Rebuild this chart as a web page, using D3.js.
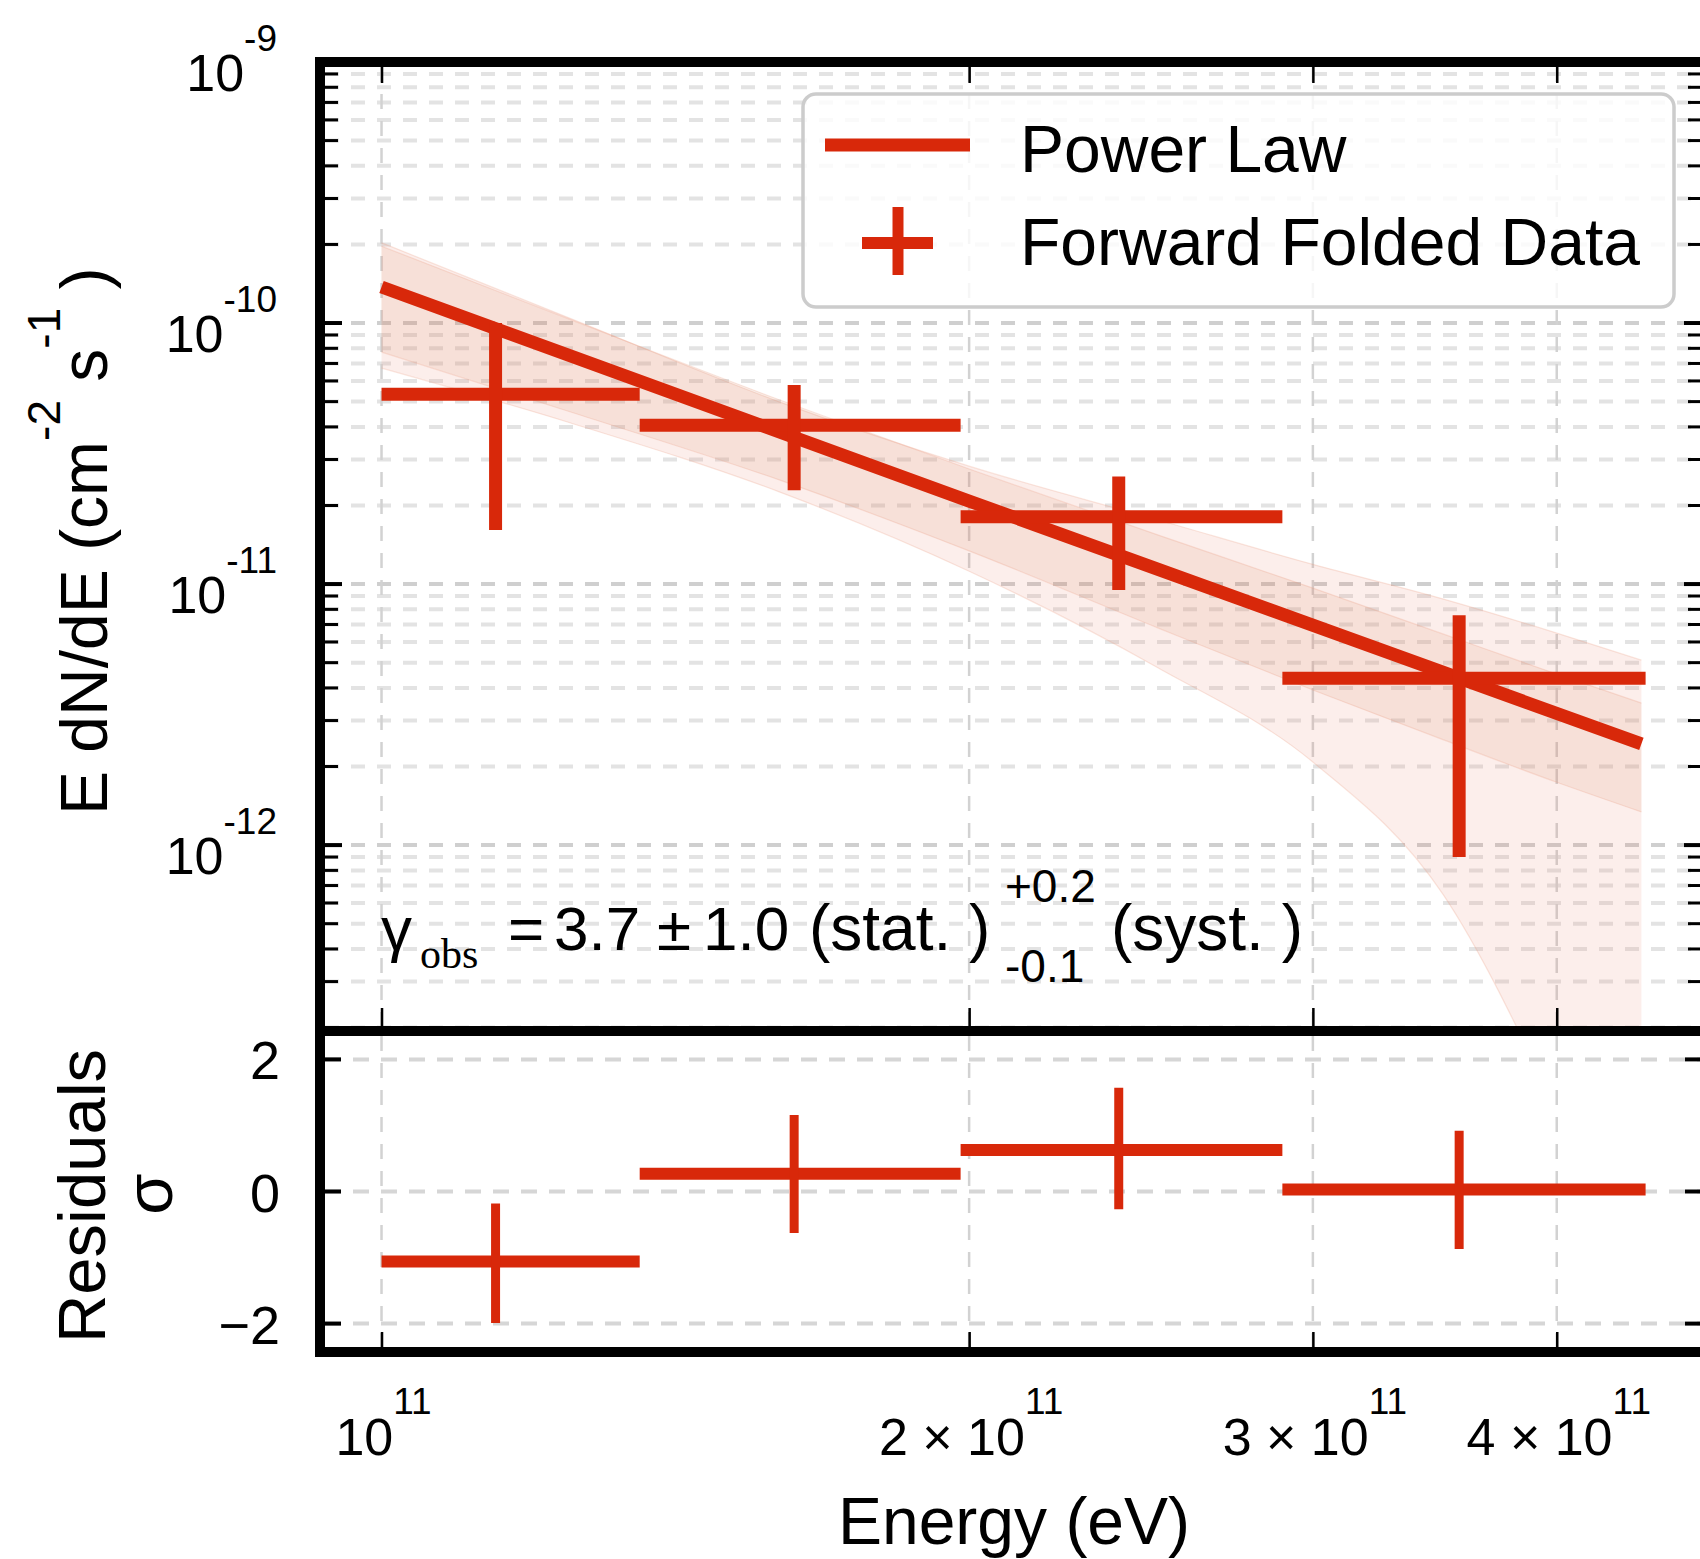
<!DOCTYPE html>
<html>
<head>
<meta charset="utf-8">
<script src="https://cdn.jsdelivr.net/npm/d3@7"></script>
<style>
html, body { margin: 0; padding: 0; background: #fff; }
svg { display: block; font-family: "Liberation Sans", Arial, Helvetica, sans-serif; }
</style>
</head>
<body>
<div id="chart"></div>
<script>
(function () {
'use strict';
// Spectrum (E dN/dE) with power-law fit + residual panel

// ---- data ----
const BIN_LO     = [1.0e11, 1.356e11, 1.980e11, 2.894e11];
const BIN_HI     = [1.356e11, 1.980e11, 2.894e11, 4.442e11];
const BIN_CENTER = [1.144e11, 1.627e11, 2.386e11, 3.565e11];
const FLUX       = [5.34e-11, 4.06e-11, 1.81e-11, 4.36e-12];
const FLUX_LO    = [1.61e-11, 2.29e-11, 9.48e-12, 9.0e-13];
const FLUX_HI    = [1.0e-10, 5.79e-11, 2.58e-11, 7.6e-12];

const RESID    = [-1.06, 0.27, 0.63, 0.03];
const RESID_LO = [-1.99, -0.63, -0.27, -0.87];
const RESID_HI = [-0.18, 1.16, 1.57, 0.92];

// fitted power law (straight in log-log)
const FIT_E    = [1.0e11, 2.0e11, 4.42e11];
const FIT_FLUX = [1.374e-10, 2.08e-11, 2.44e-12];

// uncertainty bands
const BAND_E   = [1.0e11, 1.25e11, 1.6e11, 2.0e11, 2.5e11, 3.0e11, 3.5e11, 4.0e11, 4.42e11];
const STAT_HI  = [1.97e-10, 1.03e-10, 5.07e-11, 2.76e-11, 1.54e-11, 9.65e-12, 6.43e-12, 4.52e-12, 3.50e-12];
const STAT_LO  = [7.74e-11, 4.56e-11, 2.50e-11, 1.34e-11, 6.78e-12, 3.93e-12, 2.53e-12, 1.74e-12, 1.34e-12];
const SYST_HI  = [2.03e-10, 1.04e-10, 4.98e-11, 2.83e-11, 1.76e-11, 1.19e-11, 8.76e-12, 6.49e-12, 5.11e-12];
const SYST_LO  = [6.72e-11, 4.14e-11, 2.25e-11, 1.12e-11, 4.77e-12, 2.08e-12, 6.43e-13, 9.65e-14, 1.81e-14];

// ticks
const XTICKS       = [1e11, 2e11, 3e11, 4e11];
const XTICK_MANT   = ["10", "2 × 10", "3 × 10", "4 × 10"];
const XTICK_EXP    = "11";
const YTICK_DECADE = [1e-9, 1e-10, 1e-11, 1e-12];
const YTICK_EXP    = ["-9", "-10", "-11", "-12"];
const RTICKS       = [2, 0, -2];
const RTICK_LABELS = ["2", "0", "\u22122"];

const LEGEND = ["Power Law", "Forward Folded Data"];

// ---- look ----
const RED = "#d8280a";
const GRID_MAJOR = "#cfcfcf";
const GRID_MINOR = "#e3e3e3";
const W = 1700, H = 1559;
const PL = 320, PR = 1706;       // frame centre lines
const UT = 62, UB = 1031, LB = 1352;
const FW = 10;                   // frame width
const inL = PL + FW / 2, inR = PR - FW / 2;

const svg = d3.select("#chart").append("svg")
  .attr("width", W).attr("height", H).attr("viewBox", `0 0 ${W} ${H}`);

const x = d3.scaleLog().domain([9.3e10, 4.77e11]).range([PL, PR]);
const y = d3.scaleLog().domain([1.94e-13, 1e-9]).range([UB, UT]);
const r = d3.scaleLinear().domain([-2.43, 2.43]).range([LB, UB]);

const isMajor = v => Math.abs(Math.log10(v) - Math.round(Math.log10(v))) < 1e-6;

svg.append("defs").append("clipPath").attr("id", "clipUp")
  .append("rect").attr("x", inL).attr("y", UT + FW / 2)
  .attr("width", inR - inL).attr("height", UB - UT - FW);

// ---------- upper panel ----------
const up = svg.append("g");
const yTicks = y.ticks().filter(v => v >= 1.94e-13 && v <= 1e-9);

// grid
up.append("g").selectAll("line").data(yTicks).join("line")
  .attr("x1", inL).attr("x2", inR)
  .attr("y1", d => y(d)).attr("y2", d => y(d))
  .attr("stroke", d => isMajor(d) ? GRID_MAJOR : GRID_MINOR)
  .attr("stroke-width", 4)
  .attr("stroke-dasharray", "14,12");
up.append("g").selectAll("line").data(XTICKS).join("line")
  .attr("x1", d => x(d)).attr("x2", d => x(d))
  .attr("y1", UT + FW / 2).attr("y2", UB - FW / 2)
  .attr("stroke", "#d2d2d2").attr("stroke-width", 2.5)
  .attr("stroke-dasharray", "15,12");

// bands
const bandPts = (lo, hi) => BAND_E.map((e, i) => ({ e, lo: lo[i], hi: hi[i] }));
const area = d3.area().x(d => x(d.e)).y0(d => y(d.lo)).y1(d => y(d.hi)).curve(d3.curveMonotoneX);
const edge = key => d3.line().x(d => x(d.e)).y(d => y(d[key])).curve(d3.curveMonotoneX);
const bands = up.append("g").attr("clip-path", "url(#clipUp)");
[[SYST_LO, SYST_HI, "#ea8a70", 0.14], [STAT_LO, STAT_HI, "#d87850", 0.12]].forEach(([lo, hi, c, o]) => {
  const pts = bandPts(lo, hi);
  bands.append("path").datum(pts).attr("d", area).attr("fill", c).attr("fill-opacity", o);
  ["lo", "hi"].forEach(k => bands.append("path").datum(pts).attr("d", edge(k))
    .attr("fill", "none").attr("stroke", "#ec9a80").attr("stroke-opacity", 0.25).attr("stroke-width", 1.2));
});

// fit line
up.append("path")
  .datum(FIT_E.map((e, i) => ({ e, f: FIT_FLUX[i] })))
  .attr("d", d3.line().x(d => x(d.e)).y(d => y(d.f)))
  .attr("fill", "none").attr("stroke", RED).attr("stroke-width", 13);

// data crosses
const pts = BIN_CENTER.map((c, i) => ({ c, lo: BIN_LO[i], hi: BIN_HI[i], f: FLUX[i], flo: FLUX_LO[i], fhi: FLUX_HI[i] }));
const crosses = up.append("g").attr("stroke", RED).attr("stroke-width", 13);
crosses.selectAll("line.h").data(pts).join("line").attr("class", "h")
  .attr("x1", d => x(d.lo)).attr("x2", d => x(d.hi))
  .attr("y1", d => y(d.f)).attr("y2", d => y(d.f));
crosses.selectAll("line.v").data(pts).join("line").attr("class", "v")
  .attr("x1", d => x(d.c)).attr("x2", d => x(d.c))
  .attr("y1", d => y(d.flo)).attr("y2", d => y(d.fhi));

// legend
const lg = up.append("g");
lg.append("rect").attr("x", 803).attr("y", 94).attr("width", 871).attr("height", 213)
  .attr("rx", 13).attr("fill", "#fff").attr("fill-opacity", 0.8)
  .attr("stroke", "#cccccc").attr("stroke-width", 3.5);
lg.append("line").attr("x1", 825).attr("x2", 970).attr("y1", 145).attr("y2", 145)
  .attr("stroke", RED).attr("stroke-width", 13);
lg.append("line").attr("x1", 862).attr("x2", 933).attr("y1", 243).attr("y2", 243)
  .attr("stroke", RED).attr("stroke-width", 12);
lg.append("line").attr("x1", 898).attr("x2", 898).attr("y1", 207).attr("y2", 275)
  .attr("stroke", RED).attr("stroke-width", 11);
lg.selectAll("text").data(LEGEND).join("text")
  .attr("x", 1020).attr("y", (d, i) => 172 + i * 93)
  .attr("font-size", 66).attr("fill", "#000").text(d => d);

// annotation
const ann = up.append("g").attr("fill", "#000");
const annBits = [
  { t: "\u03b3", x: 381, y: 950, s: 62 },
  { t: "obs", x: 420, y: 968, s: 42, serif: true },
  { t: "=", x: 508, y: 950, s: 62 },
  { t: "3.7", x: 554, y: 950, s: 62 },
  { t: "±", x: 657, y: 950, s: 62 },
  { t: "1.0", x: 703, y: 950, s: 62 },
  { t: "(stat. )", x: 809, y: 950, s: 64 },
  { t: "+0.2", x: 1005, y: 902, s: 46 },
  { t: "-0.1", x: 1005, y: 982, s: 46 },
  { t: "(syst. )", x: 1111, y: 950, s: 64 }
];
annBits.forEach(b => ann.append("text").attr("x", b.x).attr("y", b.y)
  .attr("font-size", b.s)
  .attr("font-family", b.serif ? "'Liberation Serif','DejaVu Serif',serif" : null)
  .text(b.t));

// ---------- lower panel ----------
const low = svg.append("g");
low.append("g").selectAll("line").data(RTICKS).join("line")
  .attr("x1", inL).attr("x2", inR)
  .attr("y1", d => r(d)).attr("y2", d => r(d))
  .attr("stroke", "#d6d6d6").attr("stroke-width", 4).attr("stroke-dasharray", "16,12");
low.append("g").selectAll("line").data(XTICKS).join("line")
  .attr("x1", d => x(d)).attr("x2", d => x(d))
  .attr("y1", UB + FW / 2).attr("y2", LB - FW / 2)
  .attr("stroke", "#d2d2d2").attr("stroke-width", 2.5).attr("stroke-dasharray", "15,12");

const res = BIN_CENTER.map((c, i) => ({ c, lo: BIN_LO[i], hi: BIN_HI[i], v: RESID[i], vlo: RESID_LO[i], vhi: RESID_HI[i] }));
low.append("g").attr("stroke", RED).attr("stroke-width", 12)
  .selectAll("line").data(res).join("line")
  .attr("x1", d => x(d.lo)).attr("x2", d => x(d.hi))
  .attr("y1", d => r(d.v)).attr("y2", d => r(d.v));
low.append("g").attr("stroke", RED).attr("stroke-width", 9)
  .selectAll("line").data(res).join("line")
  .attr("x1", d => x(d.c)).attr("x2", d => x(d.c))
  .attr("y1", d => r(d.vlo)).attr("y2", d => r(d.vhi));

// ---------- ticks ----------
const tk = svg.append("g").attr("stroke", "#000");
// y ticks upper (log) and lower, both sides, inward
[[inL, 1], [inR, -1]].forEach(([x0, dir]) => {
  tk.append("g").selectAll("line").data(yTicks).join("line")
    .attr("x1", x0).attr("x2", d => x0 + dir * (isMajor(d) ? 17 : 13))
    .attr("y1", d => y(d)).attr("y2", d => y(d))
    .attr("stroke-width", d => isMajor(d) ? 4 : 3);
  tk.append("g").selectAll("line").data(RTICKS).join("line")
    .attr("x1", x0).attr("x2", x0 + dir * 16)
    .attr("y1", d => r(d)).attr("y2", d => r(d))
    .attr("stroke-width", 4);
});
// x ticks via d3 axes (inward)
const xTickAxis = (g, y0, size) => g.attr("transform", `translate(0,${y0})`)
  .call(d3.axisBottom(x).tickValues(XTICKS).tickSize(size).tickFormat(""))
  .call(s => s.select(".domain").remove())
  .call(s => s.selectAll("line").attr("stroke", "#000").attr("stroke-width", 2.5));
xTickAxis(svg.append("g"), UT + FW / 2, 16);
xTickAxis(svg.append("g"), UB - FW / 2, -18);
xTickAxis(svg.append("g"), LB - FW / 2, -15);

// frames
svg.append("rect").attr("x", PL).attr("y", UT).attr("width", PR - PL).attr("height", UB - UT)
  .attr("fill", "none").attr("stroke", "#000").attr("stroke-width", FW);
svg.append("rect").attr("x", PL).attr("y", UB).attr("width", PR - PL).attr("height", LB - UB)
  .attr("fill", "none").attr("stroke", "#000").attr("stroke-width", FW);

// ---------- tick labels ----------
const lab = svg.append("g").attr("fill", "#000");
YTICK_DECADE.forEach((v, i) => {
  const t = lab.append("text").attr("x", 277).attr("y", y(v) + 29)
    .attr("text-anchor", "end").attr("font-size", 52).text("10");
  t.append("tspan").attr("dy", -40).attr("font-size", 37).text(YTICK_EXP[i]);
});
RTICKS.forEach((v, i) => {
  lab.append("text").attr("x", 280).attr("y", r(v) + 20)
    .attr("text-anchor", "end").attr("font-size", 54).text(RTICK_LABELS[i]);
});
XTICKS.forEach((v, i) => {
  const t = lab.append("text").attr("x", x(v) + 2).attr("y", 1455)
    .attr("text-anchor", "middle").attr("font-size", 52).text(XTICK_MANT[i]);
  t.append("tspan").attr("dy", -41).attr("font-size", 37).text(XTICK_EXP);
});

// axis titles
lab.append("text").attr("x", 1014).attr("y", 1544).attr("text-anchor", "middle")
  .attr("font-size", 66).text("Energy (eV)");

const yl = lab.append("text").attr("transform", "translate(107,815) rotate(-90)")
  .attr("font-size", 66).text("E dN/dE (cm");
yl.append("tspan").attr("dy", -47).attr("font-size", 46).text("-2");
yl.append("tspan").attr("dy", 47).text(" s");
yl.append("tspan").attr("dy", -47).attr("font-size", 46).text("-1");
yl.append("tspan").attr("dy", 47).text(" )");

lab.append("text").attr("transform", "translate(105,1196) rotate(-90)")
  .attr("text-anchor", "middle").attr("font-size", 67).text("Residuals");
lab.append("text").attr("transform", "translate(172,1194) rotate(-90)")
  .attr("text-anchor", "middle").attr("font-size", 67).text("\u03c3");
})();
</script>
</body>
</html>
